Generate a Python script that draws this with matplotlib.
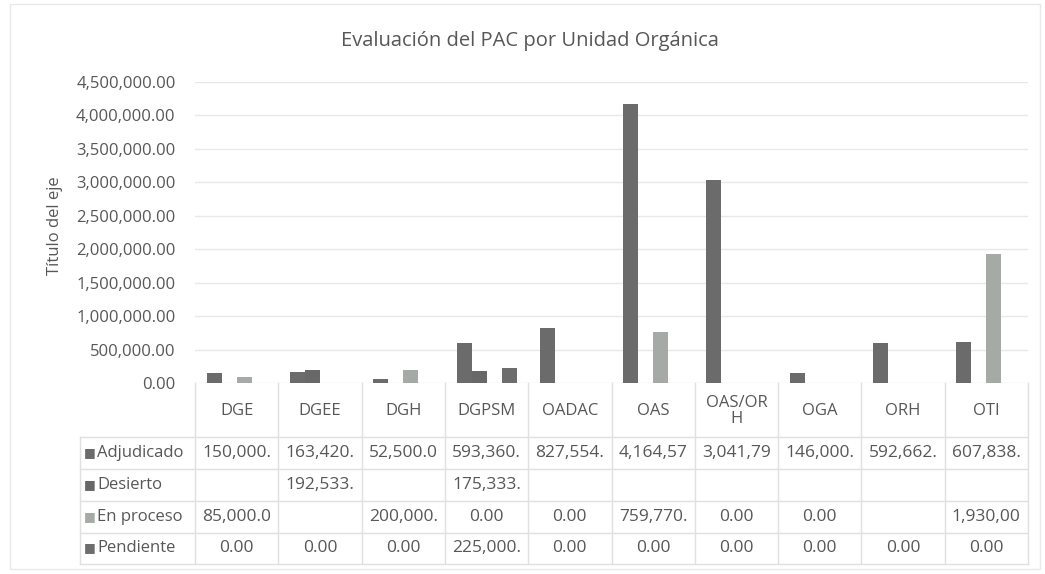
import numpy as np
import matplotlib.pyplot as plt
from matplotlib import transforms
from matplotlib.patches import Rectangle

plt.rcParams['font.family'] = ['Open Sans', 'DejaVu Sans']

# datos
unidades = ["DGE", "DGEE", "DGH", "DGPSM", "OADAC", "OAS", "OAS/OR\nH", "OGA", "ORH", "OTI"]
adjudicado = [150000, 163420, 52500, 593360, 827554, 4164570, 3041790, 146000, 592662, 607838]
desierto = [np.nan, 192533, np.nan, 175333, np.nan, np.nan, np.nan, np.nan, np.nan, np.nan]
en_proceso = [85000, np.nan, 200000, 0, 0, 759770, 0, 0, np.nan, 1930000]
pendiente = [0, 0, 0, 225000, 0, 0, 0, 0, 0, 0]
series = ["Adjudicado", "Desierto", "En proceso", "Pendiente"]
yticks = [0, 500000, 1000000, 1500000, 2000000, 2500000, 3000000, 3500000, 4000000, 4500000]

colores = ["#6b6b6b", "#686868", "#a6aaa6", "#6d6d6d"]
txt = "#575757"
linea = "#e0e0e0"

W, H = 1045, 574
def fy(p):
    return 1 - p / H

fig = plt.figure(figsize=(W / 100, H / 100), dpi=100)
fig.patches.append(Rectangle((10 / W, fy(569)), 1030 / W, (569 - 4) / H,
                             transform=fig.transFigure, fill=False,
                             edgecolor="#e8e8e8", linewidth=1))

ax = fig.add_axes([195 / W, fy(383), (1028 - 195) / W, (383 - 82) / H])
x = np.arange(len(unidades))
w = 0.18
datos = [adjudicado, desierto, en_proceso, pendiente]
for k, (vals, col) in enumerate(zip(datos, colores)):
    ax.bar(x + (k - 1.5) * w, np.nan_to_num(vals), width=w, color=col, zorder=3)

ax.set_xlim(-0.5, len(unidades) - 0.5)
ax.set_ylim(0, 4500000)
ax.set_yticks(yticks)
ax.set_yticklabels([f"{v:,.2f}" for v in yticks], color=txt, fontsize=12)
ax.tick_params(axis='y', length=0, pad=14)
ax.set_xticks([])
ax.grid(axis='y', color="#e8e8e8", linewidth=1, zorder=0)
for s in ax.spines.values():
    s.set_visible(False)

fig.text(530 / W, fy(41), "Evaluación del PAC por Unidad Orgánica",
         ha='center', va='center', fontsize=14.5, color=txt)
fig.text(55 / W, fy(226), "Título del eje", rotation=90,
         ha='center', va='center', fontsize=12, color=txt)

# tabla de datos bajo el grafico
trans = transforms.blended_transform_factory(ax.transData, fig.transFigure)
filas_y = [453, 485, 517, 548]
bordes_h = [437, 469, 501, 533, 564]

for xb in np.arange(len(unidades) + 1) - 0.5:
    ax.plot([xb, xb], [fy(383), fy(564)], transform=trans, color=linea,
            linewidth=1, clip_on=False)
fig.add_artist(plt.Line2D([80 / W, 80 / W], [fy(437), fy(564)], color=linea, linewidth=1))
for yb in bordes_h:
    fig.add_artist(plt.Line2D([80 / W, 1028 / W], [fy(yb), fy(yb)], color=linea, linewidth=1))

for i, u in enumerate(unidades):
    ax.text(i, fy(411), u, transform=trans, ha='center', va='center',
            fontsize=12, color=txt, linespacing=1.0, clip_on=False)

for nombre, vals, col, yy in zip(series, datos, colores, filas_y):
    fig.text(84 / W, fy(yy), "■", color=col, ha='left', va='center', fontsize=9,
             family=['DejaVu Sans'])
    fig.text(97 / W, fy(yy), nombre, color=txt, ha='left', va='center', fontsize=12)
    for i, v in enumerate(vals):
        if np.isnan(v):
            continue
        s = f"{v:,.2f}"[:8]
        ax.text(i, fy(yy), s, transform=trans, ha='center', va='center',
                fontsize=12.5, color=txt, clip_on=False)

fig.savefig("out.png", dpi=100, facecolor="white")
